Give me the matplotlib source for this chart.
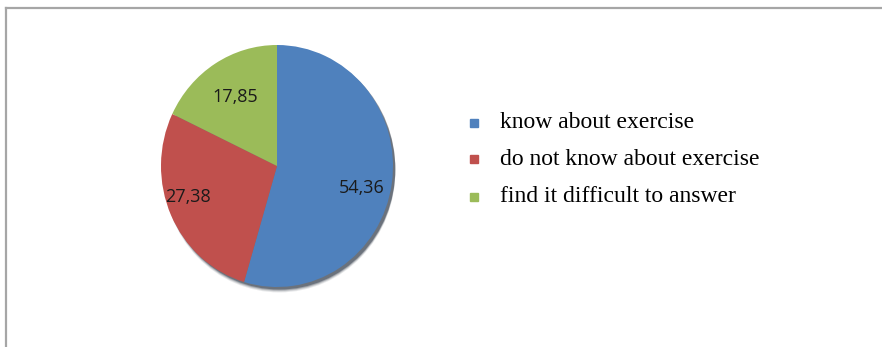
import matplotlib.pyplot as plt
from matplotlib.patches import Ellipse, Rectangle

labels = ['know about exercise', 'do not know about exercise', 'find it difficult to answer']
values = [54.36, 27.38, 17.85]
value_text = ['54,36', '27,38', '17,85']
colors = ['#4F81BD', '#C0504D', '#9BBB59']

W, H = 882, 347
fig = plt.figure(figsize=(W / 100, H / 100), dpi=100)

# grey frame along the top and left edges
fig.add_artist(plt.Line2D([6 / W, 1], [1 - 8 / H, 1 - 8 / H], color='#a6a6a6', lw=1.6))
fig.add_artist(plt.Line2D([6 / W, 6 / W], [0, 1 - 8 / H], color='#a6a6a6', lw=1.6))

# pie axes: slightly taller than wide, so the pie is an ellipse
cx, cy, rx, ry = 277, 166, 116, 121
ax = fig.add_axes([(cx - rx) / W, 1 - (cy + ry) / H, 2 * rx / W, 2 * ry / H])

# soft shadow under the bottom rim
for i, a in enumerate([0.10, 0.15, 0.25, 0.40]):
    off = 0.045 - i * 0.008
    sh = Ellipse((0.02, -off), 2.0, 2.0, color='#1f2a3a', alpha=a, lw=0, zorder=0)
    sh.set_clip_on(False)
    ax.add_patch(sh)

wedges, _ = ax.pie(values, colors=colors, startangle=90, counterclock=False,
                   radius=1, wedgeprops=dict(lw=0))
for w in wedges:
    w.set_zorder(2)
ax.set_aspect('auto')
ax.set_xlim(-1, 1)
ax.set_ylim(-1, 1)
ax.axis('off')

# value labels
fs = 13
ax.text(0.73, -0.18, value_text[0], ha='center', va='center', fontsize=fs,
        family='Open Sans', color='#1a1a1a', zorder=3)
ax.text(-0.77, -0.26, value_text[1], ha='center', va='center', fontsize=fs,
        family='Open Sans', color='#1a1a1a', zorder=3)
ax.text(-0.36, 0.57, value_text[2], ha='center', va='center', fontsize=fs,
        family='Open Sans', color='#1a1a1a', zorder=3)

# legend
rows = [123, 159, 197]
for lab, col, y in zip(labels, colors, rows):
    fig.add_artist(Rectangle((470 / W, 1 - (y + 4) / H), 8 / W, 8 / H,
                             transform=fig.transFigure, color=col))
    fig.text(500 / W, 1 - y / H, lab, ha='left', va='center', fontsize=17,
             family='Liberation Serif', color='black')

fig.savefig('out.png', dpi=100, facecolor='white')
